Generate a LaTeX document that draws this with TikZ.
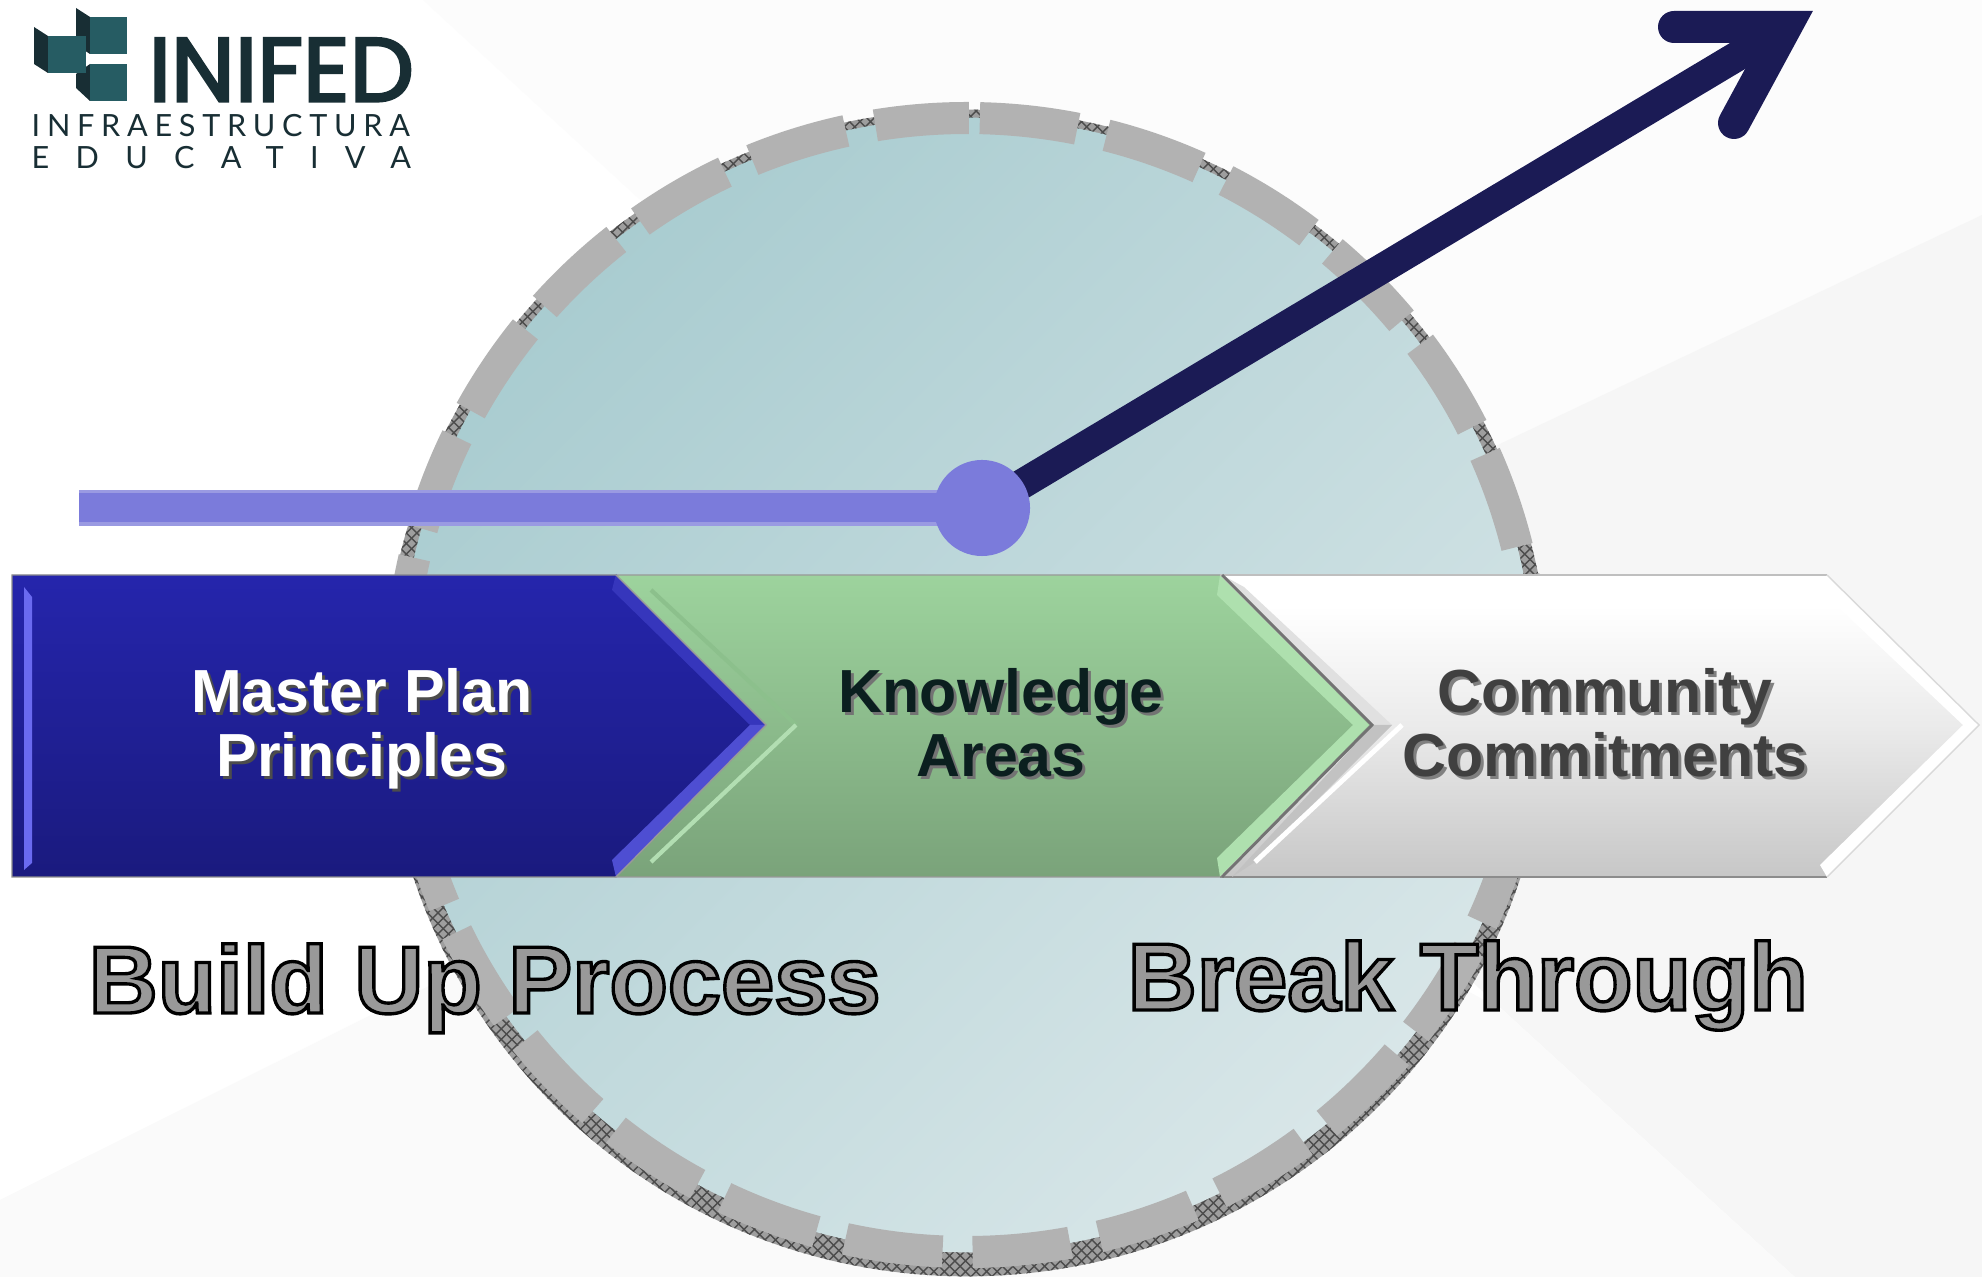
\documentclass[tikz,border=0pt]{standalone}
\usepackage{fontspec}
\usepackage{graphicx}
\usetikzlibrary{patterns}
\setmainfont{Liberation Sans}
\newfontfamily\outlinefont[FakeBold=3.5]{Liberation Sans Bold}
\newfontfamily\logofont[FakeBold=3]{Poppins}
\newfontfamily\logosubA[LetterSpace=22]{Lato}
\newfontfamily\logosubB[LetterSpace=86]{Lato}
\definecolor{ringfill1}{HTML}{A9CCD0}
\definecolor{ringfill2}{HTML}{D8E6E8}
\definecolor{ringdash}{HTML}{B2B2B2}
\definecolor{track}{HTML}{7B7BDB}
\definecolor{trackedge}{HTML}{9A9AE2}
\definecolor{navy}{HTML}{1B1B55}
\definecolor{logoteal}{HTML}{265C63}
\definecolor{logodark}{HTML}{182E34}
\definecolor{wordfill}{HTML}{999999}
\definecolor{bluetop}{HTML}{2525AC}
\definecolor{bluebottom}{HTML}{1A1A7E}
\definecolor{bluebevel1}{HTML}{3636BC}
\definecolor{bluebevel2}{HTML}{4E4ED2}
\definecolor{blueedge}{HTML}{6A6AF0}
\definecolor{greentop}{HTML}{9DD39D}
\definecolor{greenbottom}{HTML}{7AA37A}
\definecolor{greenbevel}{HTML}{AEE0AE}
\definecolor{greenline}{HTML}{B2DEB2}
\definecolor{greenfaint}{HTML}{8CC08C}
\definecolor{knowtext}{HTML}{0B1F1F}
\pgfdeclareverticalshading{whitebar}{100bp}{color(0bp)=(white!76!black); color(25bp)=(white!78!black); color(50bp)=(white!92!black); color(70bp)=(white); color(100bp)=(white)}
% outlined words: grey inside, black stroke
\newcommand{\outlined}[1]{{\outlinefont\color{wordfill}\special{pdf:code 0 0 0 RG}#1}}

\begin{document}
\begin{tikzpicture}
[x=0.01cm, y=-0.01cm,
% STYLES
% The chevron style is used to write the text of the three steps
chevron/.style={align=center, inner sep=0pt, font=\fontsize{17.3}{18.3}\selectfont\bfseries},
% The bigword style is used for the two outlined words under the bar
bigword/.style={anchor=base west, inner sep=0pt, font=\fontsize{27.2}{29}\selectfont},
% The logosub style is used for the two thin lines of the logo
logosub/.style={anchor=base west, inner sep=0pt, text=logodark},
hubdot/.style={circle, fill=track, inner sep=0pt, minimum size=0.96cm},
ringdashes/.style={draw=ringdash, line width=0.32cm, dash pattern=on 0.98cm off 0.30cm},
shaft/.style={draw=navy, line width=0.30cm}]

\useasboundingbox (0,0) rectangle (1982,1277);

% Draw background
\fill [white] (0,0) rectangle (1982,1277);
\fill [white!99!black] (423,0) -- (1982,0) -- (1982,215) -- (1504,442) -- (967,685) -- (800,347) -- cycle;
\fill [white!96.5!black] (1982,215) -- (1982,1277) -- (1795,1277) -- (1504,1011) -- (1100,640) -- (1504,442) -- cycle;
\fill [white!98!black] (0,1200) -- (367,1017) -- (967,717) -- (1504,1011) -- (1795,1277) -- (0,1277) -- cycle;

% Draw ring
\coordinate (ringcentre) at (967,685);
\fill [pattern=crosshatch, pattern color=black!70, preaction={fill=black!38}] (967,693) circle (5.83cm);
\shade [top color=ringfill1, bottom color=ringfill2, shading angle=45] (ringcentre) circle (5.67cm);
\draw [ringdashes] (ringcentre) ++(-88.7:567) arc (-88.7:270.2:567);

% Draw line and arrow
\coordinate (trackstart) at (79,508);
\coordinate (hubcentre) at (982,508);
\coordinate (arrowcorner) at (1786,27);
\coordinate (barbtop) at (1674,27);
\coordinate (barbright) at (1734,123);
\draw [draw=trackedge, line width=0.35cm] (trackstart) -- (hubcentre);
\draw [draw=track, line width=0.29cm] (trackstart) -- (hubcentre);
\draw [shaft] (hubcentre) -- (arrowcorner);
\draw [shaft, line width=0.32cm, line cap=round, line join=miter] (barbtop) -- (arrowcorner) -- (barbright);
\node [hubdot] (hub) at (hubcentre) {};

% Draw bar
\shade [top color=bluetop, bottom color=bluebottom, draw=black!45, line width=0.4pt] (12,575) -- (616,575) -- (766,725) -- (616,877) -- (12,877) -- cycle;
\fill [blueedge] (24,587) -- (32,597) -- (32,863) -- (24,870) -- cycle;
\fill [bluebevel1] (612,590) -- (616,574) -- (766,725) -- (750,725) -- cycle;
\fill [bluebevel2] (612,860) -- (616,877) -- (766,725) -- (750,725) -- cycle;

\shade [top color=greentop, bottom color=greenbottom, draw=black!40, line width=0.4pt] (616,575) -- (1220,575) -- (1371,725) -- (1220,877) -- (616,877) -- (766,725) -- cycle;
\draw [greenfaint, line width=1.2pt] (651,590) -- (796,725);
\draw [greenline, line width=1.2pt] (796,725) -- (651,862);
\fill [greenbevel] (1217,595) -- (1220,575) -- (1369,725) -- (1353,725) -- cycle;
\fill [greenbevel] (1217,858) -- (1220,877) -- (1369,725) -- (1353,725) -- cycle;

\shade [shading=whitebar] (1220,575) -- (1827,575) -- (1979,725) -- (1827,877) -- (1220,877) -- (1371,725) -- cycle;
\draw [black!25] (1220,575) -- (1827,575);
\draw [black!45] (1220,877) -- (1827,877);
\fill [black!12] (1222,575) -- (1373,725) -- (1392,725) -- (1244,587) -- cycle;
\fill [black!24] (1373,725) -- (1392,725) -- (1255,862) -- (1232,877) -- cycle;
\draw [black!55, line width=0.8pt] (1222,575) -- (1372,725) -- (1222,877);
\fill [white] (1820,590) -- (1827,575) -- (1979,725) -- (1963,725) -- cycle;
\fill [white] (1820,865) -- (1827,877) -- (1979,725) -- (1963,725) -- cycle;
\draw [black!15, line width=0.4pt] (1827,575) -- (1979,725) -- (1827,877);
\draw [white, line width=1.4pt] (1255,862) -- (1402,725);

% Shadow of the text on the bar
\node [chevron, text=black!70] at (365,732) {Master Plan\\Principles};
\node [chevron, text=black!55] at (1004,725.5) {Knowledge\\Areas};
\node [chevron, text=black!50] at (1608,725.5) {Community\\Commitments};
% Text on the bar
\node [chevron, text=white] (masterplan) at (362,729) {Master Plan\\Principles};
\node [chevron, text=knowtext] (knowledge) at (1001,722.5) {Knowledge\\Areas};
\node [chevron, text=black!75] (community) at (1605,722.5) {Community\\Commitments};

% Words under the bar
\node [bigword] (buildup) at (88,1013) {\outlined{Build Up Process}};
\node [bigword] (breakthrough) at (1127,1010) {\outlined{Break Through}};

% Draw logo
\fill [logodark] (76,8) -- (90,17) -- (90,54) -- (76,45) -- cycle;
\fill [logoteal] (90,17) rectangle (127,54);
\fill [logodark] (76,74) -- (90,64) -- (90,101) -- (76,88) -- cycle;
\fill [logoteal] (90,64) rectangle (127,101);
\fill [logodark] (34,27) -- (48,36) -- (48,73) -- (34,64) -- cycle;
\fill [logoteal] (48,36) rectangle (86,73);
\node [anchor=south west, inner sep=0pt, text=logodark] (logoname) at (148,102) {\resizebox{2.65cm}{0.63cm}{\logofont INIFED}};
\node [logosub, font=\logosubA\fontsize{8.7}{10}\selectfont] (logoline) at (31,137) {INFRAESTRUCTURA};
\node [logosub, font=\logosubB\fontsize{8.7}{10}\selectfont] (logoedu) at (31,169) {EDUCATIVA};

\end{tikzpicture}
\end{document}
